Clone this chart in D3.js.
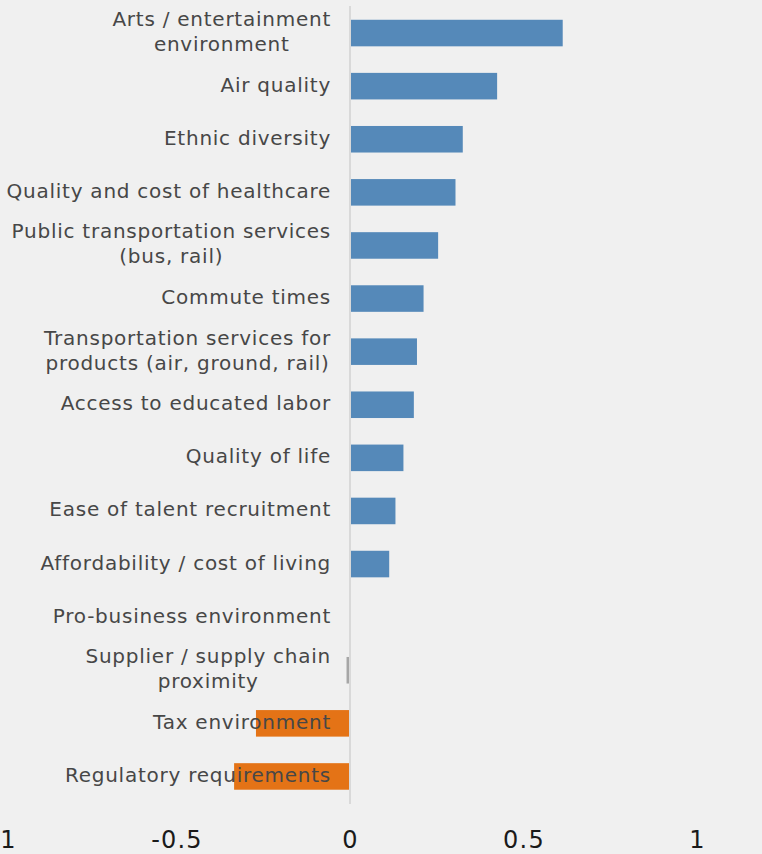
<!DOCTYPE html>
<html>
<head>
<meta charset="utf-8">
<script src="https://cdn.jsdelivr.net/npm/d3@7"></script>
<style>
  html, body { margin: 0; padding: 0; background: #f0f0f0; }
  svg { display: block; }
</style>
</head>
<body>
<svg id="chart" width="762" height="854"></svg>
<script>
// Site-selection factors, top to bottom; "\n" marks a line break in the label
const categories = [
  "Arts / entertainment\nenvironment",
  "Air quality",
  "Ethnic diversity",
  "Quality and cost of healthcare",
  "Public transportation services\n(bus, rail)",
  "Commute times",
  "Transportation services for\nproducts (air, ground, rail)",
  "Access to educated labor",
  "Quality of life",
  "Ease of talent recruitment",
  "Affordability / cost of living",
  "Pro-business environment",
  "Supplier / supply chain\nproximity",
  "Tax environment",
  "Regulatory requirements"
];
const values = [0.613, 0.424, 0.325, 0.304, 0.254, 0.212, 0.193, 0.184, 0.154, 0.131, 0.113, 0, -0.01, -0.271, -0.334];
const tickValues = [-1, -0.5, 0, 0.5, 1];
const tickLabels = ["-1", "-0.5", "0", "0.5", "1"];

const svg = d3.select("#chart");
const W = 762, H = 854;

svg.append("rect").attr("width", W).attr("height", H).attr("fill", "#f0f0f0");

const x = d3.scaleLinear().domain([-1, 1]).range([3, 697]);
const y = d3.scaleBand().domain(categories).range([6.5, 803]).paddingInner(0.5).paddingOuter(0.25);

const rows = categories.map((c, i) => ({ c, v: values[i] }));

function barColor(d) {
  if (d.v > 0) return "#5589b9";
  if (d.v <= -0.1) return "#e47316";
  return "#a6a6a6";
}

// Bars
svg.append("g").selectAll("rect")
  .data(rows.filter(d => d.v !== 0))
  .join("rect")
  .attr("x", d => Math.min(x(0), x(d.v)))
  .attr("width", d => Math.abs(x(d.v) - x(0)))
  .attr("y", d => y(d.c))
  .attr("height", y.bandwidth())
  .attr("fill", barColor);

// Zero line
svg.append("line")
  .attr("x1", x(0)).attr("x2", x(0))
  .attr("y1", 6).attr("y2", 804)
  .attr("stroke", "#d9d9d9").attr("stroke-width", 2);

// Category labels: each block is right-aligned, its lines centred within it
const lineH = 25;
const labelRight = 331;
const labels = svg.append("g")
  .attr("font-family", "'DejaVu Sans', sans-serif")
  .attr("font-size", 20)
  .attr("letter-spacing", 0.75)
  .attr("fill", "#474747")
  .attr("text-anchor", "middle");

rows.forEach(d => {
  const lines = d.c.split("\n");
  const cy = y(d.c) + y.bandwidth() / 2 - 1.5;
  const t = labels.append("text")
    .attr("y", cy - (lines.length - 1) * lineH / 2)
    .attr("dominant-baseline", "central");
  const spans = lines.map((ln, k) => t.append("tspan")
    .attr("dy", k === 0 ? 0 : lineH)
    .text(ln));
  const maxW = d3.max(spans, s => s.node().getComputedTextLength());
  spans.forEach(s => s.attr("x", labelRight - maxW / 2));
});

// X axis tick labels
const xAxis = d3.axisBottom(x)
  .tickValues(tickValues)
  .tickFormat((d, i) => tickLabels[i])
  .tickSize(0)
  .tickPadding(0);

const gx = svg.append("g")
  .attr("transform", "translate(0,831)")
  .call(xAxis);
gx.select(".domain").remove();
gx.selectAll("text")
  .attr("font-family", "'DejaVu Sans', sans-serif")
  .attr("font-size", 24)
  .attr("letter-spacing", 1.2)
  .attr("fill", "#1a1a1a")
  .attr("dy", "0.71em");
</script>
</body>
</html>
